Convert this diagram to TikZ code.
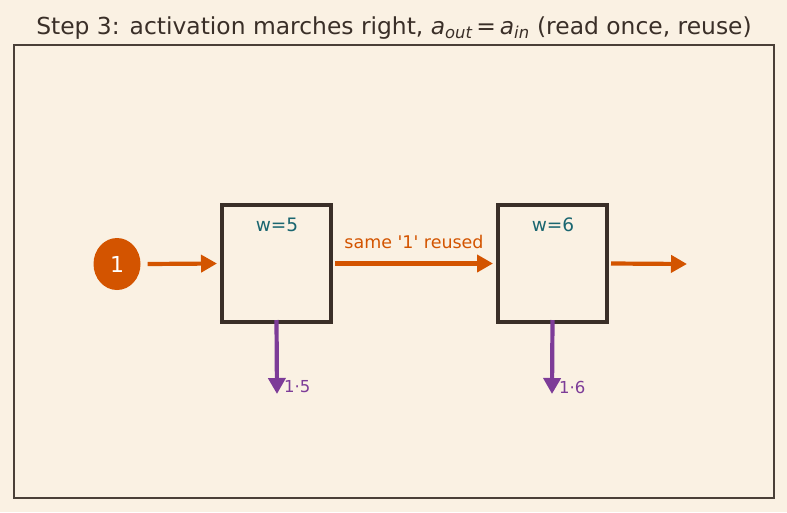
\documentclass[tikz,border=0pt]{standalone}
\usepackage{fontspec}
\setmainfont{DejaVu Sans}
\usetikzlibrary{arrows.meta,shapes.geometric}
\definecolor{bg}{HTML}{FAF1E3}
\definecolor{frame}{HTML}{4A4038}
\definecolor{boxc}{HTML}{3A2F28}
\definecolor{org}{HTML}{D35400}
\definecolor{teal}{HTML}{1A6670}
\definecolor{purp}{HTML}{7D3C98}
\definecolor{ttl}{HTML}{3A2F28}
\tikzset{
  wbox/.style={draw=boxc, line width=4pt, minimum width=109pt, minimum height=117pt, inner sep=0pt},
  flow/.style={draw=org, line width=4.2pt, -{Triangle[length=16pt,width=17pt]}},
  outa/.style={draw=purp, line width=4.2pt, -{Triangle[length=16pt,width=17pt]}},
  wlab/.style={text=teal, font=\fontsize{18.5}{21}\selectfont},
  olab/.style={text=purp, font=\fontsize{16.5}{19}\selectfont, anchor=west, inner sep=0pt},
}
\begin{document}
\begin{tikzpicture}[x=1pt,y=-1pt]
\useasboundingbox[fill=bg] (0,0) rectangle (787,512);
\draw[frame, line width=1.4pt] (14,45) rectangle (774,498);
\node[text=ttl, font=\fontsize{23.4}{27}\selectfont] (title) at (394,28) {Step 3: activation marches right, {\itshape a}\textsubscript{\itshape out}\,=\,{\itshape a}\textsubscript{\itshape in} (read once, reuse)};
\node[ellipse, fill=org, minimum width=47pt, minimum height=52pt, inner sep=0pt, text=white, font=\fontsize{22}{26}\selectfont] (in) at (117,264) {1};
\node[wbox] (b1) at (276.5,263.5) {};
\node[wbox] (b2) at (552.5,263.5) {};
\node[wlab] (w1) at (277,225) {w=5};
\node[wlab] (w2) at (553,225) {w=6};
\coordinate (o1) at (277,394);
\coordinate (o2) at (552,394);
\coordinate (end) at (687,264);
\draw[flow] ([xshift=7pt]in.east) -- ([xshift=-3pt]b1.west);
\draw[flow] ([xshift=2pt]b1.east) -- node[above=9pt, text=org, font=\fontsize{17.5}{20}\selectfont] (lab) {same \textquotesingle 1\textquotesingle\ reused} ([xshift=-3pt]b2.west);
\draw[flow] ([xshift=2pt]b2.east) -- (end);
\draw[outa] ([yshift=4pt]b1.south) -- (o1);
\draw[outa] ([yshift=4pt]b2.south) -- (o2);
\node[olab] (l1) at (284,387) {1·5};
\node[olab] (l2) at (559,387) {1·6};
\end{tikzpicture}
\end{document}
